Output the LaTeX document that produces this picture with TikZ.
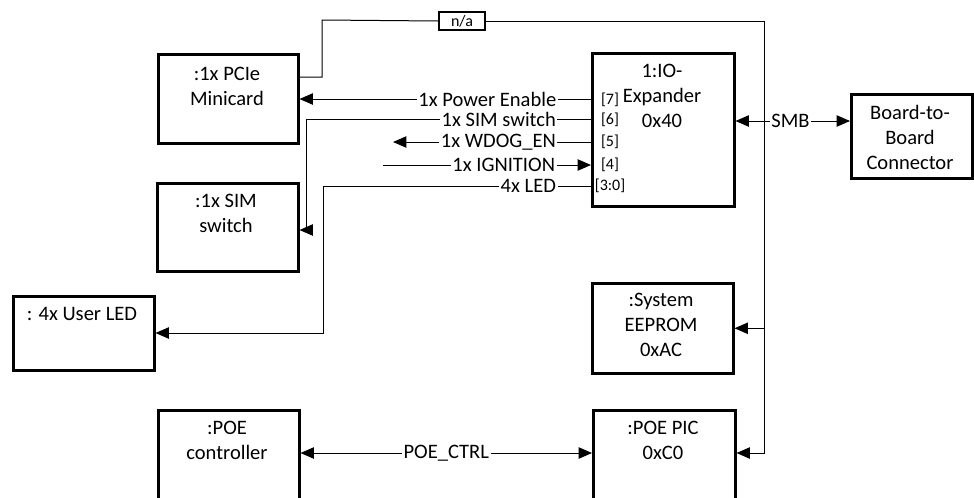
\documentclass[tikz,border=0pt]{standalone}
\usepackage{fontspec}
\setmainfont{Carlito}
\usetikzlibrary{arrows.meta}
\begin{document}
\begin{tikzpicture}[x=0.75pt,y=-0.75pt,
  box/.style={draw=black,line width=1.9pt,inner sep=0pt,anchor=north west},
  txt/.style={align=center,inner sep=0pt,font=\fontsize{15.4}{18.75}\selectfont},
  port/.style={inner sep=0pt,font=\fontsize{12}{14}\selectfont},
  lbl/.style={fill=white,inner sep=1.2pt,font=\fontsize{15.4}{18.75}\selectfont},
  sig/.style={draw=black,line width=0.75pt},
  arr/.style={sig,-{Triangle[length=10pt,width=8.5pt]}},
  arrb/.style={sig,{Triangle[length=10pt,width=8.5pt]}-{Triangle[length=10pt,width=8.5pt]}},
  nabox/.style={draw=black,line width=1.4pt,inner sep=0pt,minimum width=34.5pt,minimum height=13.5pt,font=\fontsize{12}{14}\selectfont}
]
\clip (0,0) rectangle (974,497);
\fill[white] (0,0) rectangle (974,497);

% boxes
\node[box,minimum width=105pt,minimum height=66.75pt] (pcie) at (157,53) {};
\node[box,minimum width=105.75pt,minimum height=66pt] (sim) at (156,182) {};
\node[box,minimum width=105.75pt,minimum height=55.5pt] (led) at (12,295) {};
\node[box,minimum width=105.75pt,minimum height=82.5pt] (poec) at (157,409) {};
\node[box,minimum width=106.5pt,minimum height=114.75pt] (exp) at (591,52) {};
\node[box,minimum width=90.75pt,minimum height=63pt] (b2b) at (850,93) {};
\node[box,minimum width=105.75pt,minimum height=67.5pt] (eep) at (591,282) {};
\node[box,minimum width=106.5pt,minimum height=82.5pt] (poep) at (592,409) {};

% box texts
\node[txt] (pcieT) at (227,86) {:1x PCIe\\Minicard};
\node[txt] (simT) at (226,213) {:1x SIM\\switch};
\node[txt] (ledT) at (82,314) {: 4x User LED};
\node[txt] (poecT) at (227,440) {:POE\\controller};
\node[txt] (expT) at (662,96) {1:IO-\\Expander\\0x40};
\node[txt] (b2bT) at (910,137) {Board-to-\\Board\\Connector};
\node[txt] (eepT) at (661,325) {:System\\EEPROM\\0xAC};
\node[txt] (poepT) at (663,440) {:POE PIC\\0xC0};

% ports
\node[port] (p7) at (610,100) {[7]};
\node[port] (p6) at (610,120) {[6]};
\node[port] (p5) at (610,142) {[5]};
\node[port] (p4) at (610,165) {[4]};
\node[port] (p30) at (610,186) {[3:0]};

% n/a box
\node[nabox] (na) at (462,21) {n/a};

% coordinates
\coordinate (y7) at (0,99);
\coordinate (y6) at (0,119);
\coordinate (y5) at (0,142);
\coordinate (y4) at (0,165);
\coordinate (y30) at (0,186);
\coordinate (smbY) at (0,121);
\coordinate (naY) at (0,77);
\coordinate (naBend) at (322,20);
\coordinate (busBot) at (764,453);
\coordinate (simX) at (306,230);
\coordinate (ledX) at (323,333);
\coordinate (wdogEnd) at (393,142);
\coordinate (ignStart) at (383,165);

% n/a and bus
\draw[sig] (pcie.east |- naY) -| (naBend) -- (na.west);
\draw[arr] (na.east) -| (busBot) -- (poep.east |- busBot);
\draw[arr] (busBot |- eep.east) -- (eep.east);
\draw[arrb] (exp.east |- smbY) -- node[lbl,pos=0.48]{SMB} (b2b.west |- smbY);
\draw[arrb] (poec.east |- busBot) -- node[lbl,pos=0.5]{POE\_CTRL} (poep.west |- busBot);

% signals
\draw[arr] (exp.west |- y7) -- node[lbl,anchor=east,pos=0.112]{1x Power Enable} (pcie.east |- y7);
\draw[arr] (exp.west |- y6) -- node[lbl,anchor=east,pos=0.116]{1x SIM switch} (simX |- y6) -- (simX) -- (sim.east |- simX);
\draw[arr] (exp.west |- y5) -- node[lbl,anchor=east,pos=0.167]{1x WDOG\_EN} (wdogEnd);
\draw[arr] (ignStart) -- node[lbl,anchor=east,pos=0.837]{1x IGNITION} (exp.west |- y4);
\draw[arr] (exp.west |- y30) -- node[lbl,anchor=east,pos=0.123]{4x LED} (ledX |- y30) -- (ledX) -- (led.east |- ledX);
\end{tikzpicture}
\end{document}
